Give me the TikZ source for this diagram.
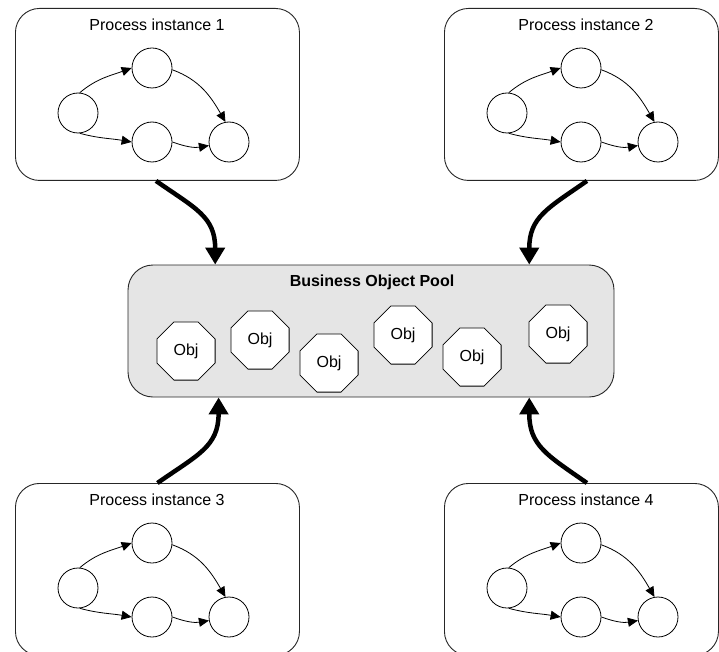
\documentclass[tikz,border=0pt]{standalone}
\usepackage{fontspec}
\setmainfont{Liberation Sans}
\usetikzlibrary{arrows.meta,shapes.geometric,calc}
\tikzset{
  procbox/.style={draw=black!85, line width=0.9pt, rounded corners=24pt, minimum height=172pt, inner sep=0pt},
  ptitle/.style={inner sep=0pt, font=\fontsize{16}{19}\selectfont},
  state/.style={circle, draw, line width=0.8pt, minimum size=40pt, inner sep=0pt, fill=white},
  flow/.style={-{Triangle[length=10pt,width=9pt]}, line width=0.8pt},
  big/.style={-{Triangle[length=17pt,width=19pt]}, line width=4.5pt},
  pool/.style={draw=black!85, line width=0.9pt, fill=black!10, rounded corners=25pt, minimum width=486pt, minimum height=132pt, inner sep=0pt},
  obj/.style={regular polygon, regular polygon sides=8, draw, line width=0.8pt, fill=white, minimum size=63pt, inner sep=0pt, font=\fontsize{16}{19}\selectfont},
}
\newcommand{\procinstance}[5]{%
  \begin{scope}[shift={(#2,#3)}]
    \node[procbox, minimum width=#4pt, anchor=north west] (#1) at (0,0) {};
    \node[ptitle] (#1t) at (142,17) {#5};
    \node[state] (#1L) at (63,105) {};
    \node[state] (#1T) at (137,60) {};
    \node[state] (#1B) at (137,134) {};
    \node[state] (#1R) at (214,134) {};
    \draw[flow] (#1L.85) to[out=40,in=200] (#1T.west);
    \draw[flow] (#1L.275) to[out=-15,in=170] (#1B.west);
    \draw[flow] (#1B.east) to[out=-20,in=190] (#1R.190);
    \draw[flow] (#1T.-5) to[out=-20,in=120] (#1R.100);
  \end{scope}}
\begin{document}
\begin{tikzpicture}[x=1pt,y=-1pt]
  \useasboundingbox (0,0) rectangle (719,652);
  \procinstance{p1}{15}{8}{284}{Process instance 1}
  \procinstance{p2}{444}{8}{274}{Process instance 2}
  \procinstance{p3}{15}{483}{284}{Process instance 3}
  \procinstance{p4}{444}{483}{274}{Process instance 4}

  \node[pool] (pool) at (371,331) {};
  \node[ptitle, font=\fontsize{16}{19}\selectfont\bfseries] (pooltitle) at (372,282) {Business Object Pool};

  \node[obj] (o1) at (186,351) {Obj};
  \node[obj] (o2) at (260,340) {Obj};
  \node[obj] (o3) at (329,363) {Obj};
  \node[obj] (o4) at (403,335) {Obj};
  \node[obj] (o5) at (472,357) {Obj};
  \node[obj] (o6) at (558,334) {Obj};

  \draw[big] ($(p1.south west)!0.495!(p1.south east)$) to[out=-35,in=90,looseness=1.2] ($(pool.north west)!0.18!(pool.north east)$);
  \draw[big] ($(p2.south west)!0.52!(p2.south east)$) to[out=-145,in=90,looseness=1.2] ($(pool.north west)!0.825!(pool.north east)$);
  \draw[big] ($(p3.north west)!0.5!(p3.north east)$) to[out=35,in=-90,looseness=1.2] ($(pool.south west)!0.187!(pool.south east)$);
  \draw[big] ($(p4.north west)!0.52!(p4.north east)$) to[out=145,in=-90,looseness=1.2] ($(pool.south west)!0.825!(pool.south east)$);
\end{tikzpicture}
\end{document}
